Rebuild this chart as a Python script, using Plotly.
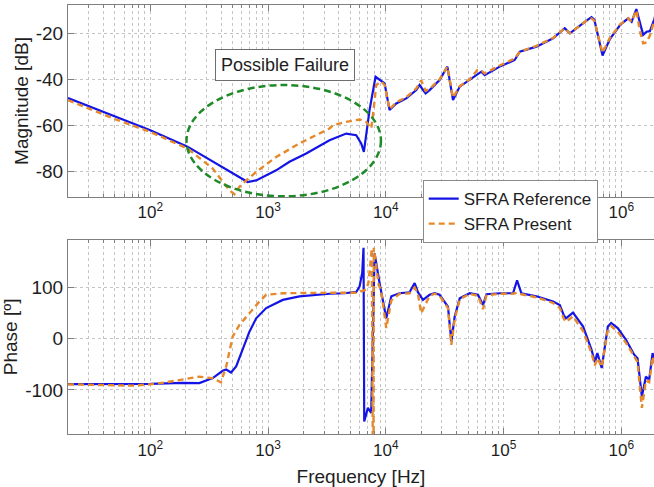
import math
import plotly.graph_objects as go

# ---------------- data ----------------
# Magnitude, SFRA Reference (blue)
mag_ref_freq = [20, 50, 100, 207, 362, 501, 671, 793, 1172, 1521, 2109, 3327, 4613, 5610,
                6194, 6516, 7278, 8185, 8851, 9772, 10765, 12274, 14928, 18155, 19364,
                21777, 23550, 28642, 33343, 37239, 42462, 51642, 64863, 69183, 92897,
                124451, 137404, 190546, 263633, 331131, 365595, 506991, 558470, 590201,
                636796, 693426, 799834, 984011, 1145513, 1224616, 1342765, 1438799,
                1534617, 1640590, 1749847, 1900000, 1950000]
mag_ref_db = [-48.2, -56.3, -62.2, -69.3, -76.7, -81.1, -84.7, -84.0, -79.6, -75.9, -72.3,
              -66.5, -63.6, -64.3, -68.0, -71.6, -53.4, -38.9, -40.3, -41.8, -53.4, -50.5,
              -48.3, -44.7, -42.5, -46.1, -44.7, -40.3, -34.5, -49.0, -43.2, -40.3, -36.7,
              -38.2, -34.5, -31.6, -28.0, -25.8, -22.2, -17.8, -20.0, -14.5, -13.0, -14.0,
              -21.5, -29.7, -22.5, -16.2, -13.5, -15.0, -9.5, -15.6, -20.7, -19.3, -19.1,
              -14.2, -12.0]

# Magnitude, SFRA Present (orange)
mag_pre_freq = [20, 50, 100, 207, 339, 470, 518, 571, 630, 793, 1172, 1850, 3327, 3548,
                4613, 5985, 6823, 7534, 7870, 8299, 9162, 9772, 10765, 12274, 14928, 18155,
                20000, 21777, 23550, 28642, 33343, 37239, 42462, 51642, 60000, 64863, 69183,
                92897, 124451, 137404, 190546, 263633, 331131, 365595, 506991, 558470,
                590201, 636796, 693426, 799834, 984011, 1145513, 1224616, 1342765, 1438799,
                1534617, 1640590, 1749847, 1900000, 1950000]
mag_pre_db = [-49.1, -57.3, -62.9, -70.1, -78.8, -88.3, -90.0, -86.8, -84.7, -80.3, -73.8,
              -67.9, -61.4, -60.0, -58.5, -57.5, -58.5, -61.4, -53.4, -42.5, -41.0, -42.5,
              -53.0, -50.0, -47.8, -44.0, -40.5, -45.0, -44.2, -40.0, -34.5, -48.0, -43.0,
              -40.0, -36.0, -36.2, -37.5, -34.0, -31.0, -28.0, -25.5, -22.0, -17.8, -20.0,
              -14.5, -13.5, -14.5, -21.0, -28.5, -22.0, -16.0, -13.5, -15.0, -10.0, -19.0,
              -24.4, -24.0, -21.0, -15.0, -13.0]

# Phase, SFRA Reference (blue)
ph_ref_freq = [20, 40, 100, 188, 261, 339, 412, 441, 485, 536, 610, 695, 793, 964, 1334,
               1849, 3327, 4467, 5610, 5984, 6310, 6471, 6561, 7047, 7516, 8035, 8851,
               10093, 11143, 13092, 15922, 17579, 18750, 20701, 23550, 26002, 28642, 33729,
               36058, 38459, 42462, 51642, 60674, 66988, 71614, 92897, 120504, 130317,
               141906, 190546, 263633, 300608, 323594, 338844, 389045, 474242, 558470,
               597035, 626614, 682339, 769130, 820352, 933254, 1096478, 1288250, 1374042,
               1496236, 1618011, 1725838, 1845015, 1931968, 1980000]
ph_ref_deg = [-88.5, -88.5, -88.0, -86.0, -86.5, -76.8, -62.5, -60.0, -65.8, -54.0, -21.5,
              14.0, 40.0, 60.0, 76.0, 83.0, 88.0, 89.0, 91.5, 102.0, 129.0, 178.0, -161.5,
              -135.0, -145.0, 167.0, 109.0, 40.0, 83.0, 89.0, 91.0, 109.0, 91.0, 76.0, 86.0,
              89.0, 86.0, 63.0, -5.0, 43.0, 79.0, 89.0, 86.0, 66.0, 87.0, 89.0, 89.0, 114.0,
              89.0, 83.0, 73.0, 66.0, 47.0, 40.0, 51.0, 24.0, -21.0, -46.0, -28.0, -57.0,
              24.0, 31.0, 21.0, -2.0, -31.0, -38.0, -113.0, -74.0, -80.0, -28.0, -47.0, -60.0]

# Phase, SFRA Present (orange)
ph_pre_freq = [20, 40, 70, 100, 136, 261, 339, 398, 441, 501, 571, 695, 845, 964, 1334,
               3327, 5610, 6823, 7129, 7413, 7603, 7745, 7870, 7907, 8035, 8318, 8710, 9120,
               10093, 11143, 13092, 15922, 17579, 18750, 19953, 21500, 23550, 26002, 28642,
               33729, 36058, 38459, 42462, 51642, 60674, 66988, 71614, 92897, 120504,
               130317, 141906, 190546, 263633, 300608, 323594, 338844, 389045, 474242,
               558470, 597035, 626614, 682339, 769130, 820352, 933254, 1096478, 1288250,
               1374042, 1496236, 1618011, 1725838, 1845015, 1931968, 1980000]
ph_pre_deg = [-89.0, -90.0, -91.5, -89.0, -85.0, -74.0, -77.0, -85.0, -54.0, 4.5, 27.0, 50.0,
              73.0, 86.0, 89.0, 90.0, 90.0, 96.0, 110.0, 150.0, 176.0, -190.0, -190.0, 178.0,
              165.0, 130.0, 105.0, 95.0, 21.0, 75.0, 88.0, 89.0, 100.0, 88.0, 50.0, 65.0,
              84.0, 88.0, 84.0, 60.0, -12.0, 38.0, 77.0, 88.0, 84.0, 58.0, 85.0, 88.0, 88.0,
              90.0, 87.0, 81.0, 70.0, 60.0, 40.0, 33.0, 44.0, 15.0, -28.0, -52.0, -38.0,
              -55.0, 18.0, 25.0, 14.0, -8.0, -36.0, -45.0, -135.0, -82.0, -85.0, -35.0,
              -52.0, -62.0]

x_tick_vals = [1e2, 1e3, 1e4, 1e5, 1e6]
x_tick_text = ["10<sup>2</sup>", "10<sup>3</sup>", "10<sup>4</sup>", "10<sup>5</sup>", "10<sup>6</sup>"]
x_minor_vals = [m * 10 ** e for e in range(1, 7) for m in range(2, 10)]
mag_tick_vals = [-80, -60, -40, -20]
mag_tick_text = ["-80", "-60", "-40", "-20"]
phase_tick_vals = [-100, 0, 100]
phase_tick_text = ["-100", "0", "100"]

series_names = ["SFRA Reference", "SFRA Present"]

# ---------------- styling ----------------
W, H = 654, 487
FONT = "Liberation Sans, Arial, Helvetica, sans-serif"
TXT = "#1e1e1e"
AXC = "#7f7f7f"
GRID = "#c4c4c4"
BLUE = "#1414e6"
ORANGE = "#e5892c"
GREEN = "#1e8a28"

x_left = 68 / W
top_dom = [1 - 197 / H, 1 - 5 / H]
bot_dom = [1 - 434.3 / H, 1 - 239.5 / H]
x_range = [math.log10(20), 6.278]

fig = go.Figure()
fig.add_trace(go.Scatter(x=mag_ref_freq, y=mag_ref_db, mode="lines", name=series_names[0],
                         line=dict(color=BLUE, width=2.2), xaxis="x", yaxis="y"))
fig.add_trace(go.Scatter(x=mag_pre_freq, y=mag_pre_db, mode="lines", name=series_names[1],
                         line=dict(color=ORANGE, width=2.4, dash="6px,4px"), xaxis="x", yaxis="y"))
fig.add_trace(go.Scatter(x=ph_ref_freq, y=ph_ref_deg, mode="lines", name=series_names[0],
                         line=dict(color=BLUE, width=2.2), xaxis="x2", yaxis="y2",
                         showlegend=False))
fig.add_trace(go.Scatter(x=ph_pre_freq, y=ph_pre_deg, mode="lines", name=series_names[1],
                         line=dict(color=ORANGE, width=2.4, dash="6px,4px"), xaxis="x2",
                         yaxis="y2", showlegend=False))


def xaxis_cfg(anchor, title=None):
    d = dict(type="log", range=x_range, domain=[x_left, 1], anchor=anchor,
             tickmode="array", tickvals=x_tick_vals, ticktext=x_tick_text,
             ticks="inside", ticklen=6, tickcolor=AXC, showline=True, linecolor=AXC,
             linewidth=1, mirror="ticks", showgrid=True, gridcolor=GRID, griddash="dot",
             gridwidth=1, zeroline=False, automargin=False,
             tickfont=dict(family=FONT, size=17, color=TXT),
             minor=dict(tickmode="array", tickvals=x_minor_vals, ticks="inside", ticklen=3,
                        tickcolor=AXC, showgrid=True, gridcolor=GRID, griddash="dot",
                        gridwidth=1))
    if title:
        d["title"] = dict(text=title, font=dict(family=FONT, size=19, color=TXT), standoff=10)
    return d


def yaxis_cfg(anchor, dom, rng, vals, text, title, standoff):
    return dict(domain=dom, range=rng, anchor=anchor, tickmode="array", tickvals=vals,
                ticktext=text,
                ticks="inside", ticklen=6, tickcolor=AXC, showline=True, linecolor=AXC,
                linewidth=1, showgrid=True, gridcolor=GRID, griddash="dot", gridwidth=1,
                zeroline=False, automargin=False,
                tickfont=dict(family=FONT, size=19, color=TXT),
                title=dict(text=title, font=dict(family=FONT, size=19, color=TXT),
                           standoff=standoff))


fig.update_layout(
    width=W, height=H, margin=dict(l=0, r=0, t=0, b=0),
    paper_bgcolor="white", plot_bgcolor="white",
    font=dict(family=FONT, size=17, color=TXT),
    xaxis=xaxis_cfg("y"),
    yaxis=yaxis_cfg("x", top_dom, [-91.2, -7.7], mag_tick_vals, mag_tick_text,
                    "Magnitude [dB]", 2),
    xaxis2=xaxis_cfg("y2", "Frequency [Hz]"),
    yaxis2=yaxis_cfg("x2", bot_dom, [-186.6, 194], phase_tick_vals, phase_tick_text,
                     "Phase [º]", 4),
    legend=dict(x=422.7 / W, y=1 - 180 / H, xanchor="left", yanchor="top",
                bgcolor="white", bordercolor="#8a8a8a", borderwidth=1,
                font=dict(family=FONT, size=17, color=TXT), tracegroupgap=0,
                itemwidth=30),
    showlegend=True,
)

# dashed ellipse around the region of interest
fig.add_shape(type="circle", xref="x", yref="y", x0=203, x1=9100, y0=-90.9, y1=-42.5,
              line=dict(color=GREEN, width=2.5, dash="7px,4px"), layer="above")

fig.add_annotation(text="Possible Failure", xref="paper", yref="paper",
                   x=284.7 / W, y=1 - 65 / H, xanchor="center", yanchor="middle",
                   showarrow=False, bgcolor="white", bordercolor="#6e6e6e", borderwidth=1,
                   borderpad=5, font=dict(family=FONT, size=18, color=TXT))

# remove the browser's default 8px page margin so the figure sits at the window corner
fig.write_html("out.html", config={"displayModeBar": False},
               post_script="document.body.style.margin='0px';document.body.style.padding='0px';")
